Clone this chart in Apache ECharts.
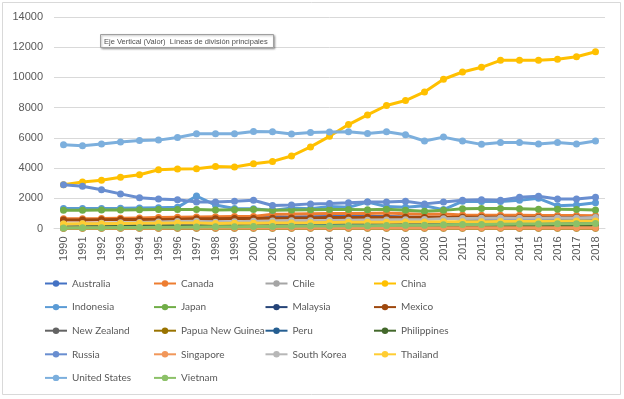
<!DOCTYPE html>
<html><head><meta charset="utf-8">
<script src="https://cdn.jsdelivr.net/npm/echarts@6/dist/echarts.min.js"></script>
<style>html,body{margin:0;padding:0;background:#fff}#c{width:624px;height:399px}</style>
</head><body><div id="c"></div>
<script>
const years = ['1990','1991','1992','1993','1994','1995','1996','1997','1998','1999','2000','2001','2002','2003','2004','2005','2006','2007','2008','2009','2010','2011','2012','2013','2014','2015','2016','2017','2018'];
const yTicks = [0, 2000, 4000, 6000, 8000, 10000, 12000, 14000];

const australia = [600,600,600,600,590,600,610,620,630,650,660,780,760,780,790,800,790,790,760,740,760,600,580,560,560,560,560,560,560];
const canada = [640,650,660,680,700,720,740,760,780,790,800,950,960,980,990,1000,1000,1020,980,940,960,900,880,880,880,860,860,860,850];
const chile = [40,45,50,55,60,65,70,80,85,90,90,95,95,100,100,105,110,115,115,110,110,115,120,120,115,120,120,120,120];
const china = [2900,3080,3190,3390,3560,3890,3940,3960,4110,4070,4290,4440,4800,5400,6100,6880,7520,8140,8470,9040,9880,10360,10670,11130,11130,11130,11200,11370,11700];
const indonesia = [1320,1330,1330,1340,1360,1380,1400,2150,1550,1320,1310,1200,1350,1300,1450,1400,1750,1450,1400,1500,1250,1800,1780,1780,1870,2000,1500,1550,1700];
const japan = [1200,1210,1220,1220,1240,1250,1260,1250,1220,1240,1250,1200,1230,1240,1250,1250,1240,1280,1210,1150,1200,1300,1320,1330,1300,1270,1270,1250,1220];
const malaysia = [160,170,180,190,200,210,220,230,230,240,250,260,270,280,290,300,300,300,310,300,320,330,330,340,340,340,350,350,350];
const mexico = [560,570,580,590,600,600,620,640,650,660,670,680,690,700,720,730,740,740,750,720,720,740,750,740,730,720,720,720,720];
const newZealand = [65,66,67,67,68,70,71,72,72,73,75,76,77,78,79,80,79,78,78,77,76,77,78,79,80,80,79,79,80];
const papuaNewGuinea = [10,10,10,10,10,10,10,10,10,12,12,12,12,12,14,14,14,15,15,15,16,16,17,17,18,18,18,19,20];
const peru = [120,120,120,120,130,130,130,140,140,140,150,150,150,160,160,160,170,170,180,180,180,190,190,190,200,200,200,210,210];
const philippines = [100,100,100,110,110,110,120,120,120,120,130,130,130,130,140,140,140,150,150,150,150,160,160,170,180,180,190,190,200];
const russia = [2900,2800,2570,2290,2030,1960,1910,1760,1760,1800,1870,1520,1560,1630,1650,1700,1760,1760,1800,1630,1760,1870,1910,1870,2070,2130,1960,1960,2070];
const singapore = [30,32,34,36,38,40,42,44,44,46,48,48,48,50,50,50,52,52,52,52,54,54,54,54,54,54,54,55,55];
const southKorea = [290,310,340,380,400,430,460,480,420,450,480,490,510,520,530,540,550,570,580,590,640,670,680,690,680,680,690,700,720];
const thailand = [300,310,320,330,340,350,360,360,330,340,350,360,370,380,400,410,410,420,430,430,440,450,450,460,470,470,480,490,500];
const unitedStates = [5545,5480,5590,5720,5830,5850,6030,6270,6270,6270,6420,6400,6250,6360,6380,6400,6290,6400,6200,5790,6050,5790,5570,5700,5700,5590,5700,5590,5790];
const vietnam = [40,45,50,60,70,80,90,100,110,120,130,140,150,160,170,180,190,200,210,220,240,260,270,280,290,300,310,320,330];

const seriesNames = ['Australia','Canada','Chile','China','Indonesia','Japan','Malaysia','Mexico','New Zealand','Papua New Guinea','Peru','Philippines','Russia','Singapore','South Korea','Thailand','United States','Vietnam'];
const seriesData = [australia,canada,chile,china,indonesia,japan,malaysia,mexico,newZealand,papuaNewGuinea,peru,philippines,russia,singapore,southKorea,thailand,unitedStates,vietnam];
const colors = ['#4472C4','#ED7D31','#A5A5A5','#FFC000','#5B9BD5','#70AD47','#264478','#9E480E','#636363','#997300','#255E91','#43682B','#698ED0','#F1975A','#B7B7B7','#FFCD33','#7CAFDD','#8CC168'];
const tooltipText = 'Eje Vertical (Valor)  Líneas de división principales';

const FONT = 'Liberation Sans';
const chart = echarts.init(document.getElementById('c'), null, {renderer:'canvas'});

const series = seriesNames.map((n,i)=>({
  name:n, type:'line', data:seriesData[i], symbol:'circle', symbolSize:7,
  color:colors[i], lineStyle:{width:3, color:colors[i]}, itemStyle:{color:colors[i]},
  z:2+i
}));

const cols = [[0,4,8,12,16],[1,5,9,13,17],[2,6,10,14],[3,7,11,15]];
const colLeft = [44,153,264.5,373];
const legends = cols.map((c,k)=>({
  orient:'vertical', left:colLeft[k], top:276.5, padding:0, itemWidth:22, itemHeight:8, itemGap:9.6,
  data:c.map(i=>seriesNames[i]),
  textStyle:{fontFamily:'Lato', fontSize:10, color:'#595959', lineHeight:14},
  selectedMode:false
}));

chart.setOption({
  animation:false,
  backgroundColor:'#fff',
  color:colors,
  grid:{left:54, right:19, top:17, bottom:170.5, containLabel:false},
  xAxis:{type:'category', data:years, boundaryGap:true,
    axisLine:{show:true, lineStyle:{color:'#D9D9D9', width:1}},
    axisTick:{show:false},
    axisLabel:{rotate:90, interval:0, margin:8, fontFamily:FONT, fontSize:11, color:'#595959'}
  },
  yAxis:{type:'value', min:yTicks[0], max:yTicks[yTicks.length-1], interval:2000,
    axisLine:{show:false}, axisTick:{show:false},
    splitLine:{lineStyle:{color:'#D9D9D9', width:1}},
    axisLabel:{margin:11, fontFamily:FONT, fontSize:11, color:'#595959', formatter:(v)=>String(v)}
  },
  legend:legends,
  series:series,
  graphic:[
    {type:'rect', shape:{x:2.5, y:2.5, width:618, height:392}, style:{fill:null, stroke:'#D9D9D9', lineWidth:1}, silent:true, z:0},
    {type:'rect', shape:{x:100.5, y:34.5, width:173, height:13}, style:{fill:'#fff', stroke:'#A0A0A0', lineWidth:1, shadowBlur:2, shadowOffsetX:1, shadowOffsetY:1, shadowColor:'rgba(0,0,0,0.3)'}, z:100},
    {type:'text', x:104, y:41.5, style:{text:tooltipText, fontFamily:FONT, fontSize:7.5, fill:'#505050', verticalAlign:'middle'}, z:101}
  ]
});
</script></body></html>
